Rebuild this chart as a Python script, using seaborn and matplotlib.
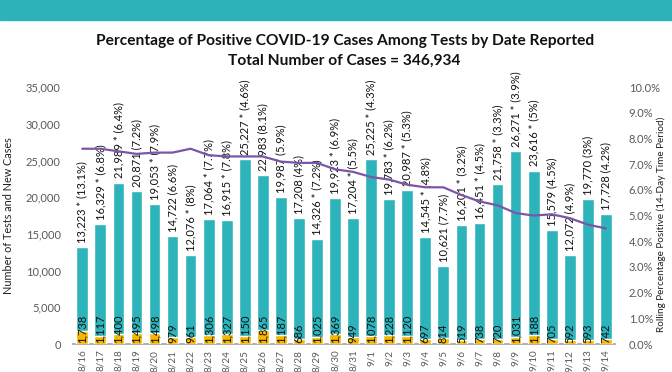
import numpy as np
import pandas as pd
import matplotlib
matplotlib.use("Agg")
import matplotlib.pyplot as plt
import seaborn as sns
from matplotlib.patches import Rectangle
from matplotlib.ticker import FuncFormatter

# data
dates = ["8/16", "8/17", "8/18", "8/19", "8/20", "8/21", "8/22", "8/23", "8/24", "8/25",
         "8/26", "8/27", "8/28", "8/29", "8/30", "8/31", "9/1", "9/2", "9/3", "9/4",
         "9/5", "9/6", "9/7", "9/8", "9/9", "9/10", "9/11", "9/12", "9/13", "9/14"]
tests = [13223, 16329, 21989, 20871, 19053, 14722, 12076, 17064, 16915, 25227,
         22983, 19987, 17208, 14326, 19923, 17204, 25225, 19783, 20987, 14545,
         10621, 16201, 16451, 21758, 26271, 23616, 15579, 12072, 19770, 17728]
starred = [1, 1, 1, 0, 1, 0, 1, 1, 1, 1,
           0, 0, 0, 1, 1, 1, 1, 1, 1, 1,
           0, 1, 1, 1, 1, 1, 0, 0, 0, 0]
daily_pct = ["13.1%", "6.8%", "6.4%", "7.2%", "7.9%", "6.6%", "8%", "7.7%", "7.8%", "4.6%",
             "8.1%", "5.9%", "4%", "7.2%", "6.9%", "5.5%", "4.3%", "6.2%", "5.3%", "4.8%",
             "7.7%", "3.2%", "4.5%", "3.3%", "3.9%", "5%", "4.5%", "4.9%", "3%", "4.2%"]
cases = [1738, 1117, 1400, 1495, 1498, 979, 961, 1306, 1327, 1150,
         1865, 1187, 686, 1025, 1369, 949, 1078, 1228, 1120, 697,
         814, 519, 738, 720, 1031, 1188, 705, 592, 593, 742]
rolling = [7.6, 7.6, 7.5, 7.4, 7.45, 7.45, 7.6, 7.35, 7.3, 7.3,
           7.3, 7.1, 7.05, 7.05, 6.8, 6.7, 6.5, 6.4, 6.2, 6.1,
           6.1, 5.8, 5.55, 5.4, 5.1, 5.0, 5.05, 4.9, 4.65, 4.5]

TEAL = "#2db4bb"
ORANGE = "#f5b800"
PURPLE = "#7d55a8"
GREY = "#595959"

df = pd.DataFrame({"date": dates, "tests": tests, "cases": cases,
                   "rolling": rolling, "pos": np.arange(len(dates))})

sns.set_theme(style="white")
plt.rcParams["font.family"] = ["Lato", "DejaVu Sans"]

fig = plt.figure(figsize=(6.72, 3.72), dpi=100)
# teal banner at top
fig.patches.append(Rectangle((0, 0.947), 1, 0.053, transform=fig.transFigure,
                             color="#2cb2b9", zorder=0))
fig.text(0.513, 0.891, "Percentage of Positive COVID-19 Cases Among Tests by Date Reported",
         ha="center", va="center", fontsize=11.2, fontweight="bold", color="#111111")
fig.text(0.513, 0.837, "Total Number of Cases = 346,934",
         ha="center", va="center", fontsize=11.2, fontweight="bold", color="#111111")

ax = fig.add_axes([0.109, 0.075, 0.806, 0.691])
sns.barplot(data=df, x="date", y="tests", color=TEAL, width=0.65,
            saturation=1, ax=ax, zorder=2)
sns.barplot(data=df, x="date", y="cases", color=ORANGE, width=0.65,
            saturation=1, ax=ax, zorder=3)

test_labels = [f"{t:,}{' *' if s else ''} ({p})" for t, s, p in zip(tests, starred, daily_pct)]
ax.bar_label(ax.containers[0], labels=test_labels, rotation=90, padding=3,
             fontsize=8, color="#111111")
for i, c in enumerate(cases):
    ax.text(i, 120, f"{c:,}", rotation=90, ha="center", va="bottom",
            fontsize=8, color="#111111", zorder=4)

ax.set_xlim(-0.5, len(dates) - 0.5)
ax.set_ylim(0, 35000)
ax.set_yticks(np.arange(0, 35001, 5000))
ax.yaxis.set_major_formatter(FuncFormatter(lambda v, p: f"{int(v):,}"))
ax.set_xlabel("")
ax.set_ylabel("Number of Tests and New Cases", fontsize=7.8, color="#222222")
ax.yaxis.set_label_coords(-0.109, 0.5)
ax.tick_params(axis="y", labelsize=8, labelcolor=GREY, length=0, pad=9)
ax.tick_params(axis="x", labelsize=7.2, labelcolor=GREY, length=0, rotation=90, pad=4)
for s in ["top", "left", "right"]:
    ax.spines[s].set_visible(False)
ax.spines["bottom"].set_color("#a6a6a6")
ax.grid(False)

ax2 = ax.twinx()
sns.lineplot(data=df, x="pos", y="rolling", color=PURPLE, linewidth=1.6, ax=ax2)
ax2.set_ylim(0, 10)
ax2.set_yticks(np.arange(0, 10.01, 1))
ax2.yaxis.set_major_formatter(FuncFormatter(lambda v, p: f"{v:.1f}%"))
ax2.set_ylabel("Rolling Percentage Positive (14-Day Time Period)", fontsize=7.2,
               color="#222222")
ax2.yaxis.set_label_coords(1.077, 0.465)
ax2.tick_params(axis="y", labelsize=8, labelcolor=GREY, length=0, pad=10)
for s in ["top", "left", "right", "bottom"]:
    ax2.spines[s].set_visible(False)
ax2.grid(False)
ax2.set_xlim(-0.5, len(dates) - 0.5)

fig.savefig("out.png", dpi=100)
